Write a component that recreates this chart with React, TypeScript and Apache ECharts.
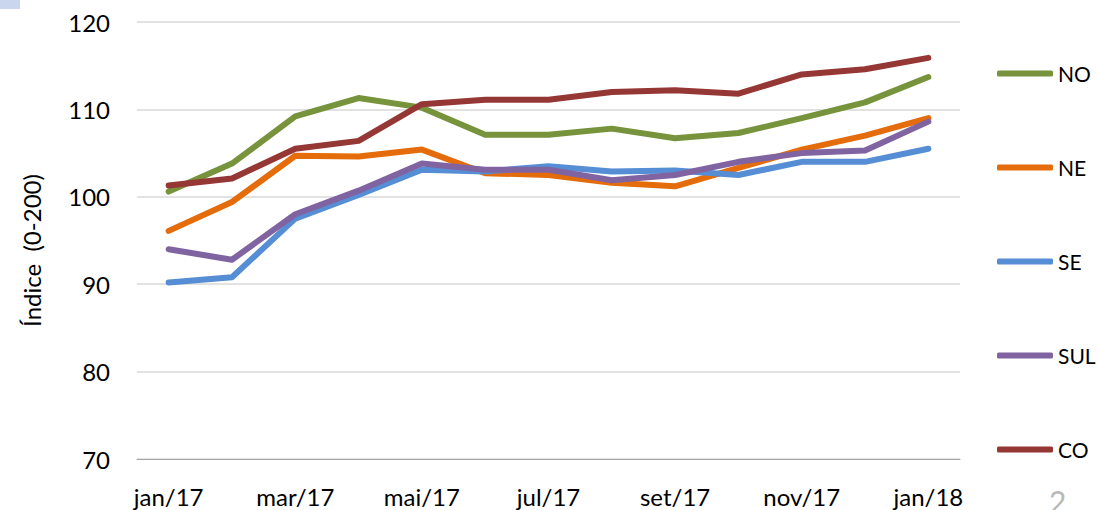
import React, { useEffect, useRef } from "react";
import * as echarts from "echarts";

const categories = ["jan/17","fev/17","mar/17","abr/17","mai/17","jun/17","jul/17","ago/17","set/17","out/17","nov/17","dez/17","jan/18"];
const NO = [100.6, 103.8, 109.2, 111.3, 110.2, 107.1, 107.1, 107.8, 106.7, 107.3, 109.0, 110.8, 113.7];
const NE = [96.1, 99.4, 104.7, 104.6, 105.4, 102.7, 102.5, 101.6, 101.2, 103.3, 105.4, 107.0, 109.0];
const SE = [90.2, 90.8, 97.5, 100.2, 103.1, 102.9, 103.5, 102.9, 103.0, 102.5, 104.0, 104.0, 105.5];
const SUL = [94.0, 92.8, 98.0, 100.7, 103.8, 103.1, 103.1, 101.9, 102.5, 104.0, 105.0, 105.3, 108.6];
const CO = [101.3, 102.1, 105.5, 106.4, 110.6, 111.1, 111.1, 112.0, 112.2, 111.8, 114.0, 114.6, 115.9];
const seriesNames = ["NO", "NE", "SE", "SUL", "CO"];
const seriesData = [NO, NE, SE, SUL, CO];
const colors = ["#77933C", "#E46C0A", "#558ED5", "#8064A2", "#953735"];

const FONT = "Lato, 'Noto Sans', sans-serif";

export default function App() {
  const ref = useRef<HTMLDivElement>(null);
  useEffect(() => {
    if (!ref.current) return;
    const chart = echarts.init(ref.current, undefined, { renderer: "svg" });
    chart.setOption({
      animation: false,
      backgroundColor: "#ffffff",
      textStyle: { fontFamily: FONT },
      grid: { left: 137, right: 138, top: 22, bottom: 51, containLabel: false },
      legend: {
        orient: "vertical",
        left: 997,
        top: 63,
        padding: 0,
        itemGap: 73,
        itemWidth: 56,
        itemHeight: 6,
        itemTextGap: 4,
        icon: "roundRect",
        data: seriesNames,
        textStyle: { fontSize: 21, color: "#000", fontFamily: FONT, lineHeight: 20 },
      },
      xAxis: {
        type: "category",
        data: categories,
        boundaryGap: true,
        axisLine: { show: true, lineStyle: { color: "#a6a6a6", width: 1 } },
        axisTick: { show: false },
        axisLabel: { interval: 1, margin: 25, fontSize: 24, color: "#000", fontFamily: FONT },
        splitLine: { show: false },
      },
      yAxis: {
        type: "value",
        min: 70,
        max: 120,
        interval: 10,
        name: "Índice  (0-200)",
        nameLocation: "middle",
        nameGap: 94,
        nameTextStyle: { fontSize: 24, color: "#000", fontFamily: FONT, padding: [0, 20, 0, 0] },
        axisLine: { show: false },
        axisTick: { show: false },
        axisLabel: { margin: 27, fontSize: 24, color: "#000", fontFamily: FONT },
        splitLine: { lineStyle: { color: "#d9d9d9", width: 1.5 } },
      },
      series: seriesNames.map((n, i) => ({
        name: n,
        type: "line",
        data: seriesData[i],
        symbol: "none",
        color: colors[i],
        lineStyle: { width: 6, color: colors[i], cap: "round", join: "round" },
      })),
      graphic: [
        { type: "rect", left: 0, top: 0, shape: { width: 20, height: 9 }, style: { fill: "#c9d6ee" } },
        { type: "text", left: 1049, top: 486, style: { text: "2", fontSize: 30, fill: "#b8b8b8", fontFamily: FONT } },
      ],
    });
    return () => chart.dispose();
  }, []);
  return <div ref={ref} style={{ position: "fixed", left: 0, top: 0, width: 1098, height: 510 }} />;
}
